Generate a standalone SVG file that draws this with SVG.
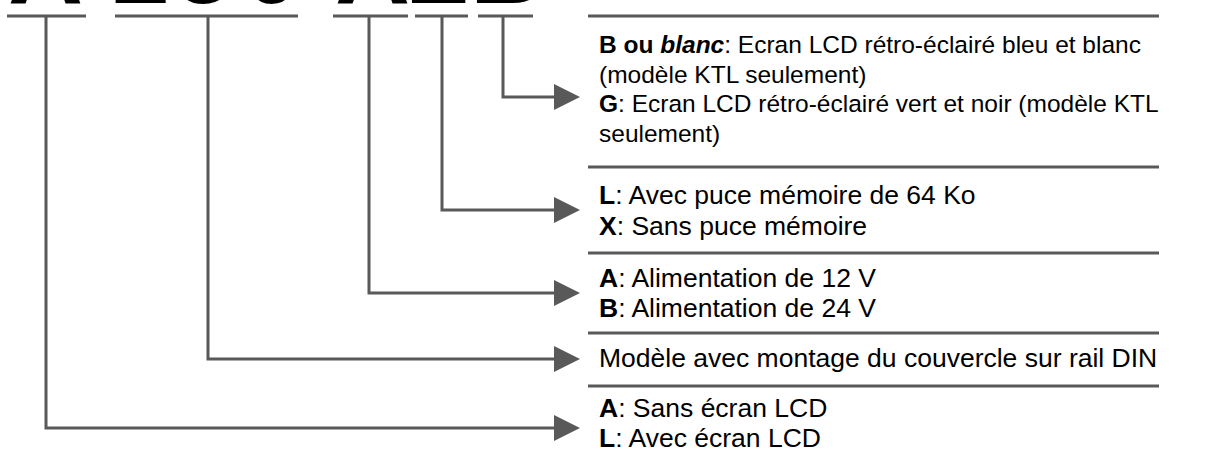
<svg xmlns="http://www.w3.org/2000/svg" width="1212" height="454" viewBox="0 0 1212 454">
  <style>
    .code { font-family: "Liberation Sans", Arial, sans-serif; font-weight: bold; font-size: 104px; fill: #000; }
    .lbl { font-family: "Liberation Sans", Arial, sans-serif; font-size: 26.5px; fill: #000; }
    .lbl.sm { font-size: 24.5px; }
    .lbl .k { font-weight: bold; }
    .lbl .ki { font-weight: bold; font-style: italic; }
    .sep { stroke: #595959; stroke-width: 3; fill: none; }
    .brk { stroke: #595959; stroke-width: 3; fill: none; }
    .conn { stroke: #595959; stroke-width: 3; fill: none; stroke-linejoin: miter; marker-end: url(#arrow); }
  </style>
  <defs>
    <marker id="arrow" markerUnits="userSpaceOnUse" markerWidth="26" markerHeight="26" viewBox="0 0 26 26" refX="0" refY="13" orient="auto">
      <path d="M0,0 L26,13 L0,26 Z" fill="#595959"/>
    </marker>
  </defs>
  <rect width="1212" height="454" fill="#fff"/>

  <!-- model code characters (cut at the top edge) -->
  <g id="code">
    <text class="code" y="3"><tspan x="8">A</tspan><tspan x="112">2</tspan><tspan x="175">5</tspan><tspan x="243">0</tspan><tspan x="335">A</tspan><tspan x="405">L</tspan><tspan x="470">B</tspan></text>
  </g>

  <!-- brackets under each code field -->
  <g id="brackets">
    <line class="brk" x1="7" y1="16" x2="86" y2="16"/>
    <line class="brk" x1="115" y1="16" x2="298" y2="16"/>
    <line class="brk" x1="333" y1="16" x2="408" y2="16"/>
    <line class="brk" x1="415" y1="16" x2="468" y2="16"/>
    <line class="brk" x1="478" y1="16" x2="533" y2="16"/>
  </g>

  <!-- connectors from each field to its description -->
  <g id="connectors">
    <polyline class="conn" points="503,16 503,97 554,97"/>
    <polyline class="conn" points="442,16 442,210 554,210"/>
    <polyline class="conn" points="369,16 369,293 554,293"/>
    <polyline class="conn" points="208,16 208,359 554,359"/>
    <polyline class="conn" points="46,16 46,428 554,428"/>
  </g>

  <!-- separators between description blocks -->
  <g id="separators">
    <line class="sep" x1="588" y1="16" x2="1159" y2="16"/>
    <line class="sep" x1="588" y1="167" x2="1159" y2="167"/>
    <line class="sep" x1="588" y1="253" x2="1159" y2="253"/>
    <line class="sep" x1="588" y1="333" x2="1159" y2="333"/>
    <line class="sep" x1="588" y1="386" x2="1159" y2="386"/>
  </g>

  <g id="display">
    <text class="lbl sm" x="599" y="53"><tspan class="k">B ou </tspan><tspan class="ki">blanc</tspan>: Ecran LCD rétro-éclairé bleu et blanc</text>
    <text class="lbl sm" x="599" y="83">(modèle KTL seulement)</text>
    <text class="lbl sm" x="599" y="112"><tspan class="k">G</tspan>: Ecran LCD rétro-éclairé vert et noir (modèle KTL</text>
    <text class="lbl sm" x="599" y="142">seulement)</text>
  </g>

  <g id="memory">
    <text class="lbl" x="599" y="204"><tspan class="k">L</tspan>: Avec puce mémoire de 64 Ko</text>
    <text class="lbl" x="599" y="235"><tspan class="k">X</tspan>: Sans puce mémoire</text>
  </g>

  <g id="power">
    <text class="lbl" x="599" y="287"><tspan class="k">A</tspan>: Alimentation de 12 V</text>
    <text class="lbl" x="599" y="317"><tspan class="k">B</tspan>: Alimentation de 24 V</text>
  </g>

  <g id="mounting">
    <text class="lbl" x="599" y="367">Modèle avec montage du couvercle sur rail DIN</text>
  </g>

  <g id="lcd">
    <text class="lbl" x="599" y="417"><tspan class="k">A</tspan>: Sans écran LCD</text>
    <text class="lbl" x="599" y="447"><tspan class="k">L</tspan>: Avec écran LCD</text>
  </g>
</svg>
